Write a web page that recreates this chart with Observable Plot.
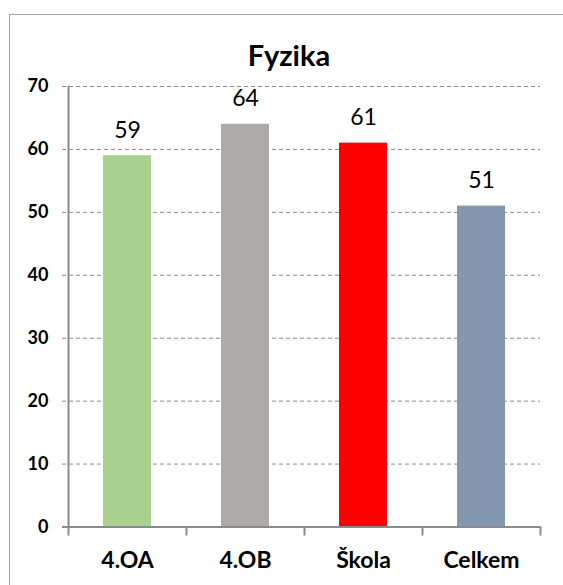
<!DOCTYPE html>
<html>
<head>
<meta charset="utf-8">
<script src="https://cdn.jsdelivr.net/npm/d3@7"></script>
<script src="https://cdn.jsdelivr.net/npm/@observablehq/plot@0.6"></script>
<style>
  html, body { margin: 0; padding: 0; background: #fff; }
  #wrap { position: relative; width: 563px; height: 585px; overflow: hidden; font-family: Lato, "Open Sans", sans-serif; }
  #frame { position: absolute; left: 9px; top: 14px; width: 620px; height: 620px; border: 1.5px solid #a6a6a6; box-sizing: border-box; }
  #title { position: absolute; left: 189px; width: 200px; top: 40px; text-align: center; font-size: 29px; line-height: 29px; font-weight: bold; color: #000; }
  #chart { position: absolute; left: 0; top: 0; }
</style>
</head>
<body>
<div id="wrap">
  <div id="frame"></div>
  <div id="chart"></div>
  <div id="title">Fyzika</div>
</div>
<script>
const title = "Fyzika";
const categories = ["4.OA", "4.OB", "Škola", "Celkem"];
const values = [59, 64, 61, 51];
const colors = ["#A9D18E", "#AEAAAA", "#FF0000", "#8497B0"];
const yTicks = [0, 10, 20, 30, 40, 50, 60, 70];

const data = categories.map((c, i) => ({cat: c, i, value: values[i], color: colors[i]}));
const bounds = d3.range(categories.length + 1);
const centers = categories.map((c, i) => i + 0.5);

const axisColor = "#8a8a8a";

const chart = Plot.plot({
  width: 563,
  height: 585,
  marginLeft: 68,
  marginRight: 23,
  marginTop: 86,
  marginBottom: 58.5,
  style: {fontFamily: "Lato, 'Open Sans', sans-serif", background: "transparent", overflow: "visible"},
  x: {type: "linear", domain: [0, categories.length], axis: null, label: null},
  y: {domain: [0, 70], axis: null, label: null},
  marks: [
    // dashed gridlines
    Plot.ruleY(yTicks.filter(t => t > 0), {stroke: axisColor, strokeDasharray: "4,3", strokeWidth: 1, insetLeft: -6}),
    // bars
    Plot.rectY(data, {x1: "i", x2: d => d.i + 1, y: "value", fill: "color", insetLeft: 35, insetRight: 35}),
    // value labels
    Plot.text(data, {x: d => d.i + 0.5, y: "value", text: d => String(d.value), lineAnchor: "bottom", dy: -18, fontSize: 23, fill: "#000"}),
    // x axis line
    Plot.ruleY([0], {stroke: axisColor, strokeWidth: 2, insetLeft: -6}),
    // y axis line
    Plot.ruleX([0], {y1: 0, y2: 70, stroke: axisColor, strokeWidth: 2}),
    // category boundary ticks
    Plot.ruleX(bounds, {y1: 0, y2: 0, insetBottom: -9, stroke: axisColor, strokeWidth: 2}),
    // y axis labels
    Plot.axisY({ticks: yTicks, tickSize: 0, tickPadding: 20, fontSize: 18, fontWeight: "bold", color: "#000", anchor: "left", label: null}),
    // x axis labels
    Plot.axisX({ticks: centers, tickFormat: (d) => categories[Math.floor(d)], tickSize: 0, tickPadding: 25, fontSize: 23, fontWeight: "bold", color: "#000", anchor: "bottom", label: null})
  ]
});
document.getElementById("chart").appendChild(chart);
</script>
</body>
</html>
